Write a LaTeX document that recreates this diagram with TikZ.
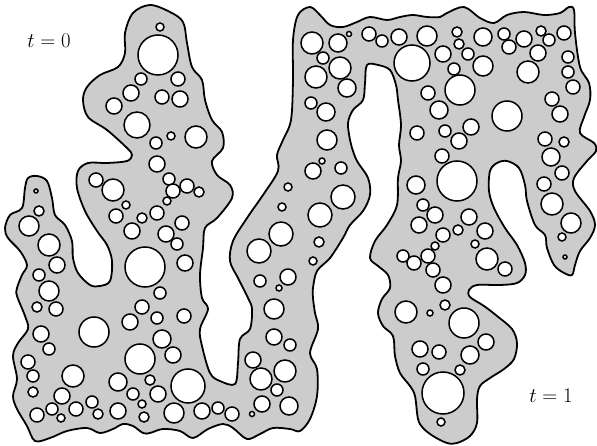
\documentclass[tikz,border=0pt]{standalone}
\usepackage{tikz}

\begin{document}
\begin{tikzpicture}[x=1pt,y=-1pt,
    blob/.style={fill=black!20,draw=black,line width=1.8pt,line join=round},
    hole/.style={fill=white,draw=black,line width=1.5pt},
    tlabel/.style={font=\fontsize{20}{24}\selectfont,inner sep=0pt}]
                        \useasboundingbox (0,0) rectangle (597,446);
                        % outline of the set
                        \filldraw[blob] plot[smooth cycle,tension=0.55] coordinates {
                            (133,13) (150,5) (170,12) (183,22) (187,43) (192,67) (202,80) (205,100)
                            (212,120) (222,132) (223,148) (212,161) (217,175) (230,185) (232,198)
                            (217,218) (205,228) (203,248) (200,275) (202,298) (208,309) (200,329)
                            (202,346) (210,373) (220,381) (235,384) (238,363) (240,339) (250,329)
                            (252,309) (248,298) (238,278) (230,261) (233,241) (247,218) (263,195)
                            (278,171) (277,155) (283,140) (291,120) (293,80) (293,40) (298,15)
                            (310,7) (320,15) (330,25) (343,27) (357,22) (370,17) (387,20) (400,17)
                            (413,15) (427,17) (440,17) (447,13) (464,7) (480,18) (494,23) (507,15)
                            (524,12) (544,15) (560,13) (569,7) (574,10) (575,33) (580,67) (589,83)
                            (590,100) (584,117) (580,133) (594,143) (596,151) (587,161) (574,178)
                            (575,191) (590,211) (595,225) (590,238) (580,251) (575,265) (572,275)
                            (564,273) (554,265) (547,248) (545,235) (535,225) (527,201) (525,185)
                            (519,168) (507,161) (497,163) (490,171) (489,191) (494,208) (505,228)
                            (517,245) (525,263) (525,275) (517,283) (500,285) (477,285) (469,290)
                            (470,297) (484,306) (497,316) (512,329) (517,343) (514,359) (504,369)
                            (490,378) (480,386) (477,399) (477,423) (470,436) (457,443) (447,443)
                            (433,436) (423,428) (418,419) (415,396) (410,386) (400,373) (395,356)
                            (393,336) (383,326) (378,313) (382,299) (390,288) (388,275) (378,266)
                            (370,258) (375,241) (387,225) (397,205) (398,178) (401,161) (399,145)
                            (401,125) (398,100) (396,85) (390,70) (378,65)
                            (367,65) (365,83) (363,100) (353,110) (348,123) (350,140) (352,148)
                            (357,161) (368,178) (370,195) (363,211) (350,225) (343,238) (330,258)
                            (317,271) (313,288) (313,298) (315,313) (318,329) (310,353) (317,369)
                            (317,396) (310,419) (300,431) (290,429) (273,428) (260,434) (247,439)
                            (233,428) (223,424) (208,429) (193,438) (180,431) (163,429) (150,433)
                            (143,433) (133,426) (123,424) (113,429) (100,433) (87,428) (67,431)
                            (50,438) (35,441) (27,426) (17,409) (13,396) (17,379) (13,356) (18,343)
                            (28,329) (25,316) (17,296) (17,288) (22,275) (27,265) (20,251) (8,238)
                            (5,228) (10,215) (22,208) (25,188) (28,178) (37,176) (47,181) (52,198)
                            (55,215) (65,225) (72,241) (73,258) (78,273) (90,285) (100,286)
                            (110,281) (112,261) (107,245) (97,231) (85,211) (77,188) (78,171)
                            (88,163) (107,163) (127,161) (132,155) (127,148) (107,130) (88,117)
                            (83,100) (87,87) (100,75) (118,67) (125,53) (125,33)};

                        % holes, left column
                        \filldraw[hole] (160,27) circle (4);
                        \filldraw[hole] (158,55) circle (20);
                        \filldraw[hole] (141,79) circle (6);
                        \filldraw[hole] (178,79) circle (7);
                        \filldraw[hole] (131,93) circle (8);
                        \filldraw[hole] (162,97) circle (7);
                        \filldraw[hole] (180,99) circle (8);
                        \filldraw[hole] (114,106) circle (8);
                        \filldraw[hole] (137,125) circle (13);
                        \filldraw[hole] (171,136) circle (4);
                        \filldraw[hole] (196,137) circle (11);
                        \filldraw[hole] (156,143) circle (6);
                        \filldraw[hole] (157,164) circle (8);
                        \filldraw[hole] (169,179) circle (6);
                        \filldraw[hole] (187,186) circle (7);
                        \filldraw[hole] (173,191) circle (7);
                        \filldraw[hole] (199,192) circle (5);
                        \filldraw[hole] (167,201) circle (4);
                        \filldraw[hole] (157,213) circle (7);
                        \filldraw[hole] (182,223) circle (7);
                        \filldraw[hole] (166,234) circle (8);
                        \filldraw[hole] (177,244) circle (6);
                        \filldraw[hole] (145,267) circle (20);
                        \filldraw[hole] (185,263) circle (8);
                        \filldraw[hole] (160,293) circle (6);
                        \filldraw[hole] (96,180) circle (7);
                        \filldraw[hole] (113,190) circle (11);
                        \filldraw[hole] (126,205) circle (4);
                        \filldraw[hole] (116,216) circle (7);
                        \filldraw[hole] (142,218) circle (5);
                        \filldraw[hole] (132,231) circle (8);
                        \filldraw[hole] (36,191) circle (2);
                        \filldraw[hole] (39,211) circle (5);
                        \filldraw[hole] (29,226) circle (10);
                        \filldraw[hole] (49,245) circle (11);
                        \filldraw[hole] (57,265) circle (8);
                        \filldraw[hole] (39,275) circle (6);
                        \filldraw[hole] (49,291) circle (10);
                        \filldraw[hole] (37,307) circle (5);
                        \filldraw[hole] (56,309) circle (7);
                        \filldraw[hole] (94,332) circle (15);
                        \filldraw[hole] (142,307) circle (7);
                        \filldraw[hole] (130,322) circle (8);
                        \filldraw[hole] (41,334) circle (8);
                        \filldraw[hole] (49,349) circle (6);
                        \filldraw[hole] (28,362) circle (7);
                        \filldraw[hole] (33,376) circle (6);
                        \filldraw[hole] (33,392) circle (5);
                        \filldraw[hole] (73,376) circle (11);
                        \filldraw[hole] (140,359) circle (15);
                        \filldraw[hole] (118,382) circle (9);
                        \filldraw[hole] (62,396) circle (8);
                        \filldraw[hole] (133,394) circle (6);
                        \filldraw[hole] (52,409) circle (6);
                        \filldraw[hole] (76,409) circle (7);
                        \filldraw[hole] (92,402) circle (6);
                        \filldraw[hole] (37,415) circle (7);
                        \filldraw[hole] (61,418) circle (4);
                        \filldraw[hole] (98,414) circle (5);
                        \filldraw[hole] (118,411) circle (8);
                        \filldraw[hole] (142,404) circle (4);
                        \filldraw[hole] (144,417) circle (5);
                        \filldraw[hole] (150,380) circle (5);
                        \filldraw[hole] (157,318) circle (6);
                        \filldraw[hole] (184,316) circle (7);
                        \filldraw[hole] (162,339) circle (9);
                        \filldraw[hole] (173,355) circle (8);
                        \filldraw[hole] (188,386) circle (17);
                        \filldraw[hole] (158,394) circle (8);
                        \filldraw[hole] (174,413) circle (10);
                        \filldraw[hole] (202,411) circle (8);
                        \filldraw[hole] (218,408) circle (6);
                        \filldraw[hole] (232,414) circle (7);

                        % holes, middle column
                        \filldraw[hole] (288,187) circle (4);
                        \filldraw[hole] (282,207) circle (4);
                        \filldraw[hole] (281,234) circle (12);
                        \filldraw[hole] (259,251) circle (12);
                        \filldraw[hole] (260,281) circle (6);
                        \filldraw[hole] (288,277) circle (8);
                        \filldraw[hole] (279,288) circle (3);
                        \filldraw[hole] (274,309) circle (10);
                        \filldraw[hole] (274,337) circle (8);
                        \filldraw[hole] (290,345) circle (6);
                        \filldraw[hole] (253,360) circle (8);
                        \filldraw[hole] (285,371) circle (11);
                        \filldraw[hole] (261,379) circle (11);
                        \filldraw[hole] (277,390) circle (6);
                        \filldraw[hole] (262,404) circle (8);
                        \filldraw[hole] (289,406) circle (9);
                        \filldraw[hole] (252,414) circle (2.5);
                        \filldraw[hole] (313,171) circle (8);
                        \filldraw[hole] (322,161) circle (3);
                        \filldraw[hole] (341,168) circle (6);
                        \filldraw[hole] (343,197) circle (12);
                        \filldraw[hole] (320,215) circle (12);
                        \filldraw[hole] (319,242) circle (5);
                        \filldraw[hole] (313,261) circle (4);
                        \filldraw[hole] (311,103) circle (6);
                        \filldraw[hole] (326,112) circle (9);
                        \filldraw[hole] (327,140) circle (10);
                        \filldraw[hole] (312,43) circle (11);
                        \filldraw[hole] (338,43) circle (9);
                        \filldraw[hole] (349,34) circle (2.5);
                        \filldraw[hole] (323,58) circle (6);
                        \filldraw[hole] (340,68) circle (11);
                        \filldraw[hole] (316,77) circle (11);
                        \filldraw[hole] (347,88) circle (9);

                        % holes, right column
                        \filldraw[hole] (369,34) circle (7);
                        \filldraw[hole] (382,41) circle (6);
                        \filldraw[hole] (399,37) circle (8);
                        \filldraw[hole] (427,36) circle (10);
                        \filldraw[hole] (443,54) circle (8);
                        \filldraw[hole] (412,63) circle (18);
                        \filldraw[hole] (428,93) circle (7);
                        \filldraw[hole] (439,110) circle (9);
                        \filldraw[hole] (417,133) circle (7);
                        \filldraw[hole] (445,131) circle (6);
                        \filldraw[hole] (457,32) circle (5);
                        \filldraw[hole] (483,37) circle (9);
                        \filldraw[hole] (504,34) circle (6);
                        \filldraw[hole] (524,39) circle (8);
                        \filldraw[hole] (541,31) circle (5);
                        \filldraw[hole] (564,33) circle (7);
                        \filldraw[hole] (459,44) circle (5);
                        \filldraw[hole] (509,47) circle (7);
                        \filldraw[hole] (549,40) circle (6);
                        \filldraw[hole] (468,54) circle (6);
                        \filldraw[hole] (538,53) circle (8);
                        \filldraw[hole] (568,57) circle (6);
                        \filldraw[hole] (483,66) circle (10);
                        \filldraw[hole] (454,69) circle (6);
                        \filldraw[hole] (528,72) circle (11);
                        \filldraw[hole] (568,72) circle (6);
                        \filldraw[hole] (573,87) circle (7);
                        \filldraw[hole] (460,90) circle (15);
                        \filldraw[hole] (552,99) circle (7);
                        \filldraw[hole] (560,114) circle (8);
                        \filldraw[hole] (507,116) circle (15);
                        \filldraw[hole] (471,127) circle (8);
                        \filldraw[hole] (459,141) circle (8);
                        \filldraw[hole] (545,139) circle (7);
                        \filldraw[hole] (564,142) circle (5);
                        \filldraw[hole] (442,156) circle (7);
                        \filldraw[hole] (457,181) circle (20);
                        \filldraw[hole] (416,185) circle (9);
                        \filldraw[hole] (423,205) circle (6);
                        \filldraw[hole] (435,215) circle (8);
                        \filldraw[hole] (419,225) circle (8);
                        \filldraw[hole] (443,235) circle (7);
                        \filldraw[hole] (435,246) circle (4);
                        \filldraw[hole] (403,256) circle (6);
                        \filldraw[hole] (428,256) circle (7);
                        \filldraw[hole] (414,263) circle (7);
                        \filldraw[hole] (433,270) circle (7);
                        \filldraw[hole] (443,285) circle (8);
                        \filldraw[hole] (551,157) circle (9);
                        \filldraw[hole] (562,173) circle (7);
                        \filldraw[hole] (544,184) circle (7);
                        \filldraw[hole] (552,204) circle (11);
                        \filldraw[hole] (571,223) circle (10);
                        \filldraw[hole] (562,237) circle (4);
                        \filldraw[hole] (565,257) circle (2);
                        \filldraw[hole] (469,217) circle (8);
                        \filldraw[hole] (458,230) circle (5);
                        \filldraw[hole] (485,231) circle (8);
                        \filldraw[hole] (475,244) circle (4);
                        \filldraw[hole] (487,259) circle (11);
                        \filldraw[hole] (505,269) circle (7);
                        \filldraw[hole] (406,312) circle (11);
                        \filldraw[hole] (430,313) circle (3);
                        \filldraw[hole] (445,305) circle (5);
                        \filldraw[hole] (420,349) circle (8);
                        \filldraw[hole] (439,352) circle (7);
                        \filldraw[hole] (423,369) circle (6);
                        \filldraw[hole] (443,393) circle (21);
                        \filldraw[hole] (441,422) circle (4);
                        \filldraw[hole] (464,323) circle (15);
                        \filldraw[hole] (486,342) circle (8);
                        \filldraw[hole] (470,355) circle (9);
                        \filldraw[hole] (460,370) circle (5);

                        \node[tlabel] (tzero) at (49,41) {$t=0$};
                        \node[tlabel] (tone) at (551,396) {$t=1$};
                    \end{tikzpicture}
\end{document}
